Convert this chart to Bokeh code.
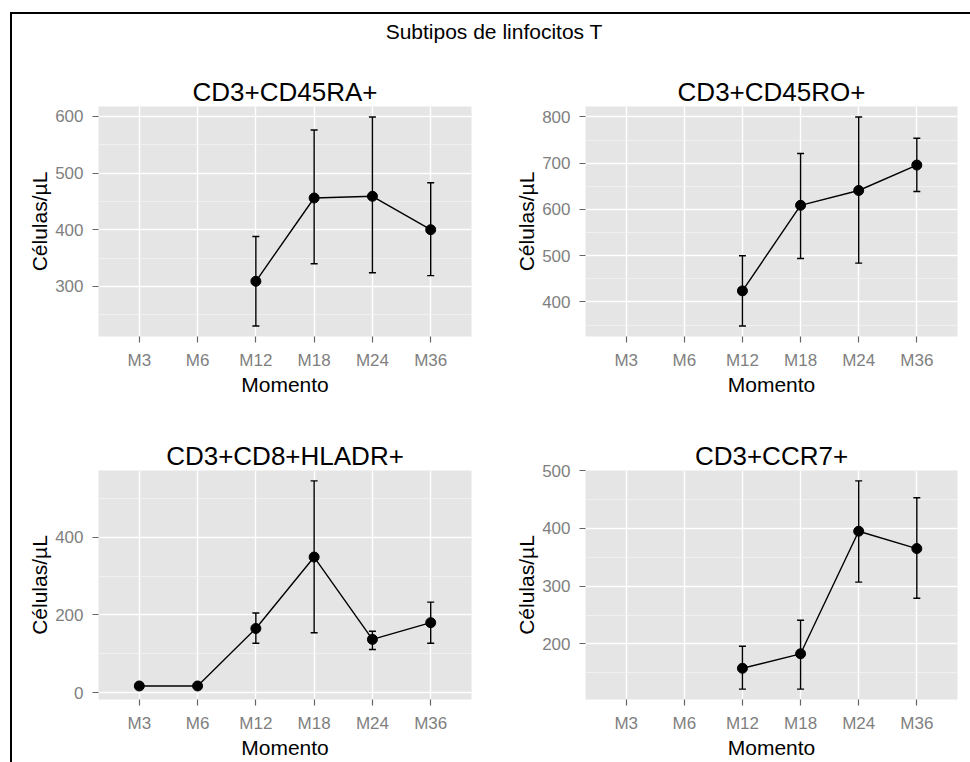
from bokeh.plotting import figure
from bokeh.models import (ColumnDataSource, FactorRange, Range1d, FixedTicker,
                          Whisker, TeeHead, Div, Spacer)
from bokeh.layouts import row, column
from bokeh.embed import file_html
from bokeh.resources import INLINE

# ---------------- data ----------------
main_title = "Subtipos de linfocitos T"
categories = ["M3", "M6", "M12", "M18", "M24", "M36"]
x_title = "Momento"
y_title = "Células/µL"

ra_title = "CD3+CD45RA+"
ra_x = ["M12", "M18", "M24", "M36"]
ra_mean = [309, 456, 459, 400]
ra_lower = [230, 340, 324, 319]
ra_upper = [388, 576, 599, 483]
ra_ticks = [300, 400, 500, 600]
ra_minor = [250, 350, 450, 550]

ro_title = "CD3+CD45RO+"
ro_x = ["M12", "M18", "M24", "M36"]
ro_mean = [424, 609, 641, 696]
ro_lower = [348, 494, 484, 639]
ro_upper = [500, 721, 800, 754]
ro_ticks = [400, 500, 600, 700, 800]
ro_minor = [350, 450, 550, 650, 750]

hla_title = "CD3+CD8+HLADR+"
hla_x = ["M3", "M6", "M12", "M18", "M24", "M36"]
hla_mean = [17, 17, 165, 349, 137, 180]
hla_lower = [9, 9, 127, 154, 111, 127]
hla_upper = [25, 25, 205, 545, 158, 233]
hla_ticks = [0, 200, 400]
hla_minor = [100, 300, 500]

ccr_title = "CD3+CCR7+"
ccr_x = ["M12", "M18", "M24", "M36"]
ccr_mean = [158, 183, 395, 365]
ccr_lower = [122, 122, 307, 279]
ccr_upper = [196, 241, 482, 453]
ccr_ticks = [200, 300, 400, 500]
ccr_minor = [150, 250, 350, 450]

FONT = "Liberation Sans"
GREY = "#7F7F7F"


def make_panel(title, xs, mean, lower, upper, ticks, minor,
               width, height, bl, br, bt, bb):
    lo = min(lower)
    hi = max(upper)
    pad = 0.05 * (hi - lo)
    p = figure(width=width, height=height,
               x_range=FactorRange(factors=categories, range_padding=0.2,
                                   range_padding_units="absolute"),
               y_range=Range1d(lo - pad, hi + pad),
               output_backend="svg", toolbar_location=None,
               min_border_left=bl, min_border_right=br,
               min_border_top=bt, min_border_bottom=bb)
    p.background_fill_color = "#E5E5E5"
    p.border_fill_color = "white"
    p.outline_line_color = None

    p.title.text = title
    p.title.align = "center"
    p.title.text_font = FONT
    p.title.text_font_size = "26px"
    p.title.text_font_style = "normal"
    p.title.text_color = "black"
    p.title.standoff = 0

    p.yaxis.ticker = FixedTicker(ticks=ticks, minor_ticks=minor)
    for ax in (p.xaxis[0], p.yaxis[0]):
        ax.axis_line_color = None
        ax.major_tick_line_color = "#666666"
        ax.major_tick_line_width = 1.2
        ax.major_tick_in = 0
        ax.major_tick_out = 6
        ax.minor_tick_line_color = None
        ax.major_label_text_color = GREY
        ax.major_label_text_font = FONT
        ax.major_label_text_font_size = "17px"
        ax.axis_label_text_font = FONT
        ax.axis_label_text_font_size = "21px"
        ax.axis_label_text_font_style = "normal"
        ax.axis_label_text_color = "black"
    p.xaxis.axis_label = x_title
    p.yaxis.axis_label = y_title
    p.xaxis.major_label_standoff = 8
    p.xaxis.axis_label_standoff = 0
    p.yaxis.major_label_standoff = 9
    p.yaxis.axis_label_standoff = 1

    p.xgrid.grid_line_color = "white"
    p.xgrid.grid_line_width = 1.4
    p.ygrid.grid_line_color = "white"
    p.ygrid.grid_line_width = 1.4
    p.ygrid.minor_grid_line_color = "#F2F2F2"
    p.ygrid.minor_grid_line_width = 0.8

    src = ColumnDataSource(dict(x=xs, mean=mean, lower=lower, upper=upper))
    w = Whisker(base="x", upper="upper", lower="lower", source=src,
                dimension="height", line_color="black", line_width=1.4,
                upper_head=TeeHead(size=7, line_color="black", line_width=1.4),
                lower_head=TeeHead(size=7, line_color="black", line_width=1.4),
                level="glyph")
    p.add_layout(w)
    p.line(x="x", y="mean", source=src, line_color="black", line_width=1.4)
    p.scatter(x="x", y="mean", source=src, marker="circle", size=10,
              fill_color="black", line_color="black")
    return p


f1 = make_panel(ra_title, ra_x, ra_mean, ra_lower, ra_upper, ra_ticks, ra_minor,
                473, 364, 86, 14, 46, 88)
f2 = make_panel(ro_title, ro_x, ro_mean, ro_lower, ro_upper, ro_ticks, ro_minor,
                485, 364, 100, 13, 46, 88)
f3 = make_panel(hla_title, hla_x, hla_mean, hla_lower, hla_upper, hla_ticks, hla_minor,
                473, 338, 86, 14, 46, 63)
f4 = make_panel(ccr_title, ccr_x, ccr_mean, ccr_lower, ccr_upper, ccr_ticks, ccr_minor,
                485, 338, 100, 13, 46, 63)

title_div = Div(text='<div style="text-align:center; font-family:\'Liberation Sans\'; '
                     'font-size:21px; color:black; padding-top:3px; width:964px;">'
                     + main_title + '</div>',
                width=958, height=46, margin=(0, 0, 0, 0))

top_line = Div(text="", width=960, height=2, margin=(0, 0, 0, 0),
               styles={"background-color": "black"})
left_line = Div(text="", width=2, height=748, margin=(0, 0, 0, 0),
                styles={"background-color": "black"})

layout = column(
    Spacer(width=970, height=12),
    row(Spacer(width=10, height=2), top_line),
    row(Spacer(width=10, height=748), left_line,
        column(title_div, row(f1, f2), row(f3, f4))),
)

open("out.html", "w").write(file_html(layout, INLINE))
